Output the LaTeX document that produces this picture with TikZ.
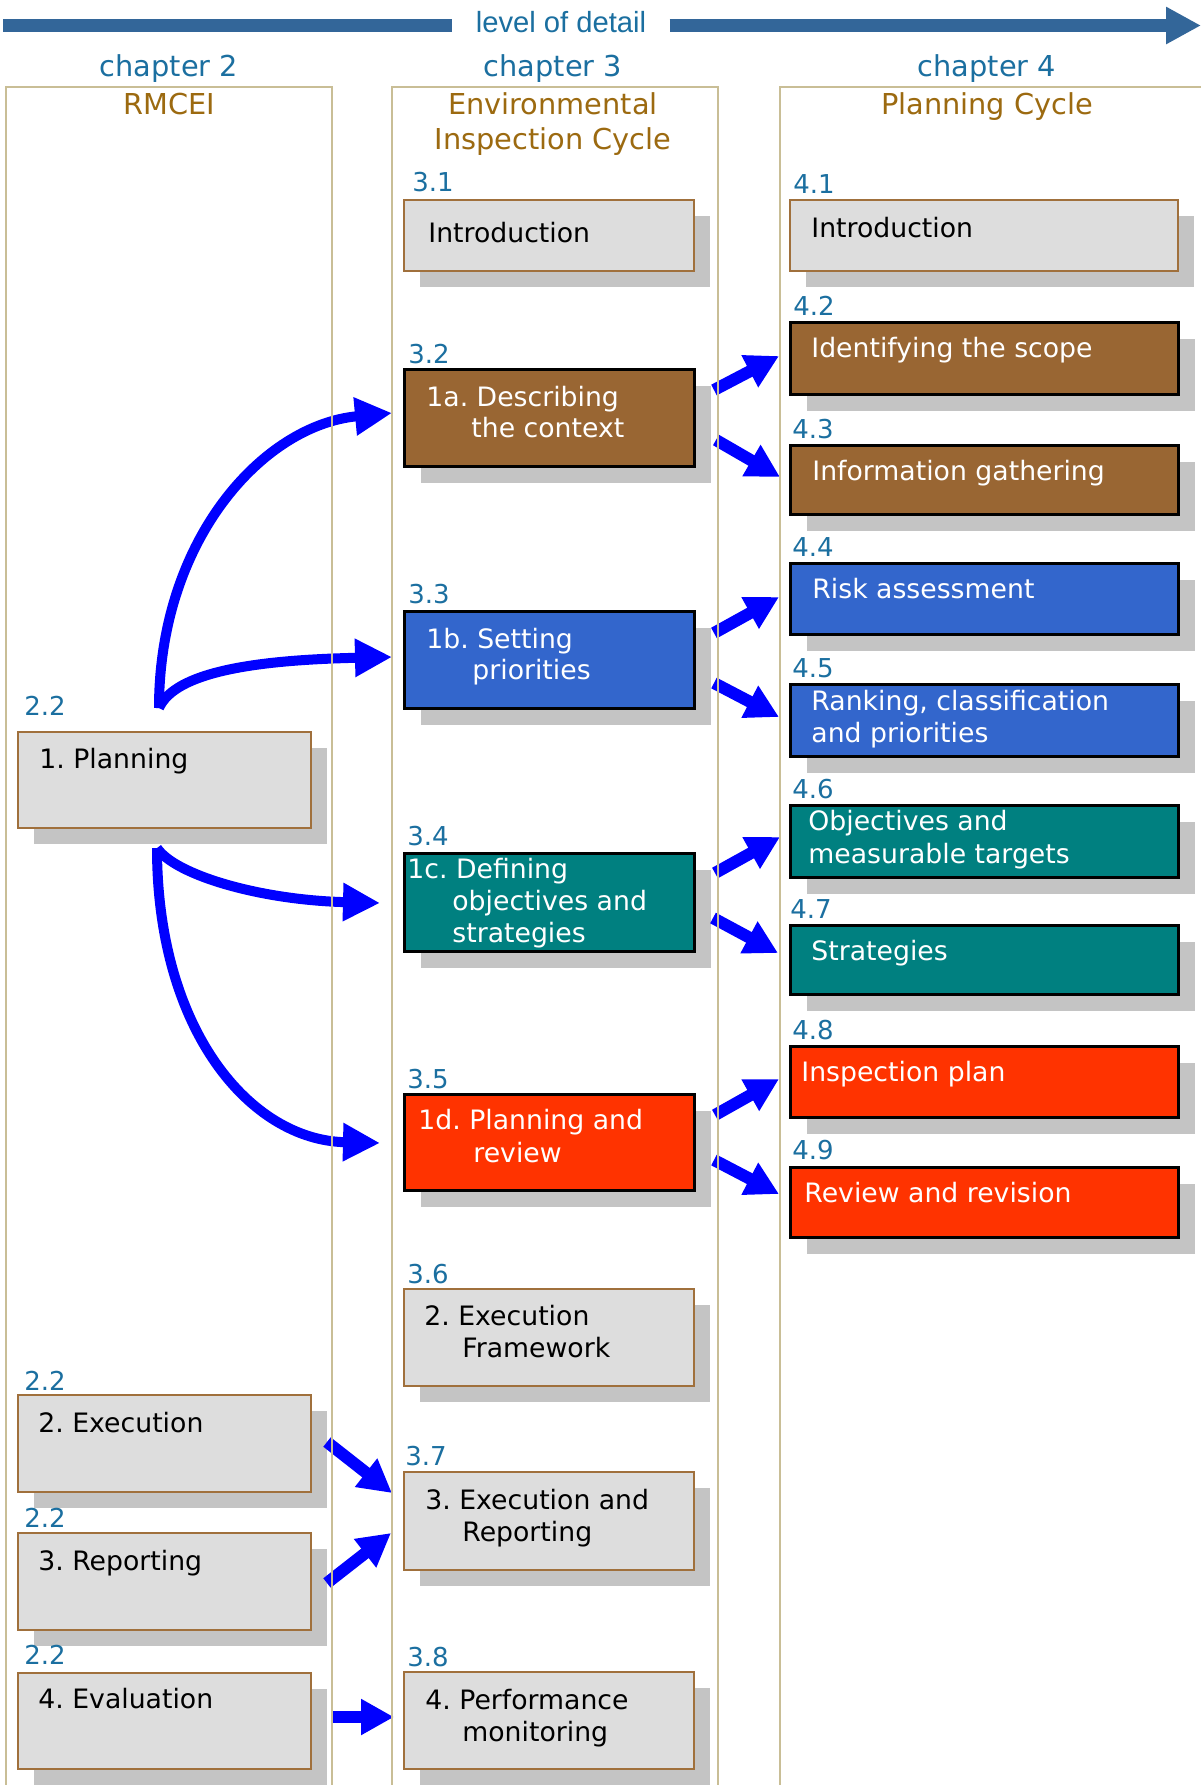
\documentclass[tikz,border=0pt]{standalone}
\usepackage{fontspec}
\setmainfont{DejaVu Sans}
\newfontfamily\arialfont{Liberation Sans}
\usetikzlibrary{arrows.meta,shadows}
\frenchspacing

\definecolor{hdrblue}{HTML}{1B6FA0}
\definecolor{subbrown}{HTML}{9C6A10}
\definecolor{framecol}{HTML}{C9BE96}
\definecolor{barblue}{HTML}{336699}
\definecolor{boxgray}{HTML}{DDDDDD}
\definecolor{edgebrown}{HTML}{A0703C}
\definecolor{shadowgray}{HTML}{C4C4C4}
\definecolor{fbrown}{HTML}{996633}
\definecolor{fblue}{HTML}{3366CC}
\definecolor{fteal}{HTML}{008080}
\definecolor{fred}{HTML}{FF3300}
\definecolor{arrowblue}{HTML}{0000FF}

\tikzset{
  boxbase/.style={rectangle, anchor=north west, inner sep=0pt,
    general shadow={fill=shadowgray, shadow xshift=8pt, shadow yshift=-8pt}},
  plainbox/.style={boxbase, draw=edgebrown, line width=1pt, fill=boxgray},
  darkbox/.style={boxbase, draw=black, line width=1.5pt, fill=#1},
  wone/.style={minimum width=146.5pt},
  wtwo/.style={minimum width=145pt},
  wthree/.style={minimum width=194pt},
  secnum/.style={anchor=base west, inner sep=0pt, text=hdrblue,
    font=\fontsize{13pt}{15pt}\selectfont},
  btxt/.style={anchor=base west, inner sep=0pt, text=black,
    font=\fontsize{13.35pt}{16pt}\selectfont},
  wtxt/.style={btxt, text=white},
  ctitle/.style={anchor=base, inner sep=0pt, text=hdrblue,
    font=\fontsize{14.4pt}{17pt}\selectfont},
  csub/.style={ctitle, text=subbrown},
  bar/.style={draw=barblue, line width=6.5pt},
  curvedarrow/.style={draw=arrowblue, line width=5pt,
    -{Triangle[length=18.5pt,width=18pt]}},
  shortarrow/.style={draw=arrowblue, line width=6pt,
    -{Triangle[length=16.5pt,width=17pt]}},
  frameline/.style={draw=framecol, line width=1.2pt},
}

\begin{document}
\begin{tikzpicture}[x=0.5pt, y=-0.5pt]
\fill[white] (0,0) rectangle (1201,1785);
\useasboundingbox (0,0) rectangle (1201,1785);

% ---- header arrow: level of detail ----
\node[font=\arialfont\fontsize{14.6pt}{17pt}\selectfont, text=hdrblue,
      anchor=base, inner xsep=11.5pt, inner ysep=0pt] (lod) at (561,32) {level of detail};
\coordinate (barL) at (3,25.5);
\coordinate (barR) at (1201,25.5);
\draw[bar] (barL) -- (lod.west |- barL);
\draw[bar, -{Triangle[length=17.5pt,width=17.5pt]}] (lod.east |- barL) -- (barR);

% ---- chapter headings ----
\node[ctitle] (ch2) at (169,76) {chapter 2};
\node[csub]   (ch2s) at (169,114) {RMCEI};
\node[ctitle] (ch3) at (553,76) {chapter 3};
\node[csub]   (ch3s) at (553,114) {Environmental};
\node[csub]   (ch3t) at (553,149) {Inspection Cycle};
\node[ctitle] (ch4) at (987,76) {chapter 4};
\node[csub]   (ch4s) at (987,114) {Planning Cycle};

% ---- chapter 2 column ----
\node[plainbox, wone, minimum height=48pt]   (plan) at (17,731) {};
\node[plainbox, wone, minimum height=48.5pt] (exec) at (17,1394) {};
\node[plainbox, wone, minimum height=48.5pt] (rep)  at (17,1532) {};
\node[plainbox, wone, minimum height=48pt]   (eval) at (17,1672) {};

\node[secnum] (nplan) at (24,715)  {2.2};
\node[secnum] (nexec) at (24,1390) {2.2};
\node[secnum] (nrep)  at (24,1527) {2.2};
\node[secnum] (neval) at (24,1664) {2.2};

\node[btxt] (tplan) at (39,768)  {1. Planning};
\node[btxt] (texec) at (38,1432) {2. Execution};
\node[btxt] (trep)  at (38,1570) {3. Reporting};
\node[btxt] (teval) at (38,1708) {4. Evaluation};

% ---- chapter 3 column ----
\node[plainbox, wtwo, minimum height=35.5pt] (s31) at (403,199) {};
\node[darkbox=fbrown, wtwo, minimum height=48.5pt] (s32) at (403,368) {};
\node[darkbox=fblue,  wtwo, minimum height=48.5pt] (s33) at (403,610) {};
\node[darkbox=fteal,  wtwo, minimum height=49pt]   (s34) at (403,852) {};
\node[darkbox=fred,   wtwo, minimum height=48pt]   (s35) at (403,1093) {};
\node[plainbox, wtwo, minimum height=48.5pt] (s36) at (403,1288) {};
\node[plainbox, wtwo, minimum height=49pt]   (s37) at (403,1471) {};
\node[plainbox, wtwo, minimum height=48.5pt] (s38) at (403,1671) {};

\node[secnum] (n31) at (412,191)  {3.1};
\node[secnum] (n32) at (408,363)  {3.2};
\node[secnum] (n33) at (408,603)  {3.3};
\node[secnum] (n34) at (407,845)  {3.4};
\node[secnum] (n35) at (407,1088) {3.5};
\node[secnum] (n36) at (407,1283) {3.6};
\node[secnum] (n37) at (405,1465) {3.7};
\node[secnum] (n38) at (407,1666) {3.8};

\node[btxt] (t31) at (428,242) {Introduction};
\node[wtxt] (t32a) at (426,406) {1a. Describing};
\node[wtxt] (t32b) at (471,437) {the context};
\node[wtxt] (t33a) at (426,648) {1b. Setting};
\node[wtxt] (t33b) at (472,679) {priorities};
\node[wtxt] (t34a) at (407,878) {1c. Defining};
\node[wtxt] (t34b) at (452,910) {objectives and};
\node[wtxt] (t34c) at (452,942) {strategies};
\node[wtxt] (t35a) at (418,1129) {1d. Planning and};
\node[wtxt] (t35b) at (473,1162) {review};
\node[btxt] (t36a) at (424,1325) {2. Execution};
\node[btxt] (t36b) at (462,1357) {Framework};
\node[btxt] (t37a) at (425,1509) {3. Execution and};
\node[btxt] (t37b) at (462,1541) {Reporting};
\node[btxt] (t38a) at (425,1709) {4. Performance};
\node[btxt] (t38b) at (462,1741) {monitoring};

% ---- chapter 4 column ----
\node[plainbox, wthree, minimum height=35.5pt] (s41) at (789,199) {};
\node[darkbox=fbrown, wthree, minimum height=36pt]   (s42) at (789,321) {};
\node[darkbox=fbrown, wthree, minimum height=34.5pt] (s43) at (789,444) {};
\node[darkbox=fblue,  wthree, minimum height=35.5pt] (s44) at (789,562) {};
\node[darkbox=fblue,  wthree, minimum height=36pt]   (s45) at (789,683) {};
\node[darkbox=fteal,  wthree, minimum height=36pt]   (s46) at (789,804) {};
\node[darkbox=fteal,  wthree, minimum height=34.5pt] (s47) at (789,924) {};
\node[darkbox=fred,   wthree, minimum height=35.5pt] (s48) at (789,1045) {};
\node[darkbox=fred,   wthree, minimum height=35pt]   (s49) at (789,1166) {};

\node[secnum] (n41) at (793,193)  {4.1};
\node[secnum] (n42) at (793,315)  {4.2};
\node[secnum] (n43) at (792,438)  {4.3};
\node[secnum] (n44) at (792,556)  {4.4};
\node[secnum] (n45) at (792,677)  {4.5};
\node[secnum] (n46) at (792,798)  {4.6};
\node[secnum] (n47) at (790,918)  {4.7};
\node[secnum] (n48) at (792,1039) {4.8};
\node[secnum] (n49) at (792,1159) {4.9};

\node[btxt] (t41) at (811,237) {Introduction};
\node[wtxt] (t42) at (811,357) {Identifying the scope};
\node[wtxt] (t43) at (812,480) {Information gathering};
\node[wtxt] (t44) at (812,598) {Risk assessment};
\node[wtxt] (t45a) at (811,710) {Ranking, classification};
\node[wtxt] (t45b) at (811,742) {and priorities};
\node[wtxt] (t46a) at (808,830) {Objectives and};
\node[wtxt] (t46b) at (808,863) {measurable targets};
\node[wtxt] (t47) at (811,960) {Strategies};
\node[wtxt] (t48) at (801,1081) {Inspection plan};
\node[wtxt] (t49) at (804,1202) {Review and revision};

% ---- curved arrows from Planning ----
\coordinate (pu) at (159,708);
\coordinate (pd) at (157,848);
\coordinate (e32) at (392,413);
\coordinate (e33) at (392,657);
\coordinate (e34) at (380,903);
\coordinate (e35) at (380,1143);
\draw[curvedarrow] (pu) .. controls (159,540) and (263,425) .. (e32);
\draw[curvedarrow] (pu) .. controls (175,672) and (255,660) .. (e33);
\draw[curvedarrow] (pd) .. controls (175,875) and (260,900) .. (e34);
\draw[curvedarrow] (pd) .. controls (157,1030) and (250,1140) .. (e35);

% ---- short arrows chapter 3 -> chapter 4 ----
\coordinate (a1s) at (714,390)  ; \coordinate (a1e) at (779,356);
\coordinate (a2s) at (716,440)  ; \coordinate (a2e) at (780,477);
\coordinate (a3s) at (714,633)  ; \coordinate (a3e) at (779,597);
\coordinate (a4s) at (714,683)  ; \coordinate (a4e) at (779,717);
\coordinate (a5s) at (715,873)  ; \coordinate (a5e) at (780,837);
\coordinate (a6s) at (713,918)  ; \coordinate (a6e) at (778,953);
\coordinate (a7s) at (715,1115) ; \coordinate (a7e) at (779,1079);
\coordinate (a8s) at (714,1160) ; \coordinate (a8e) at (779,1194);
\foreach \i in {1,...,8} \draw[shortarrow] (a\i s) -- (a\i e);

% ---- short arrows chapter 2 -> chapter 3 ----
\coordinate (b1s) at (327,1442) ; \coordinate (b1e) at (392,1493);
\coordinate (b2s) at (327,1583) ; \coordinate (b2e) at (391,1533);
\coordinate (b3s) at (331,1717) ; \coordinate (b3e) at (394,1717);
\foreach \i in {1,2,3} \draw[shortarrow] (b\i s) -- (b\i e);

% ---- column frames ----
\draw[frameline] (6,1790) -- (6,87) -- (332,87) -- (332,1790);
\draw[frameline] (392,1790) -- (392,87) -- (718,87) -- (718,1790);
\draw[frameline] (780,1790) -- (780,87) -- (1201,87);
\end{tikzpicture}
\end{document}
